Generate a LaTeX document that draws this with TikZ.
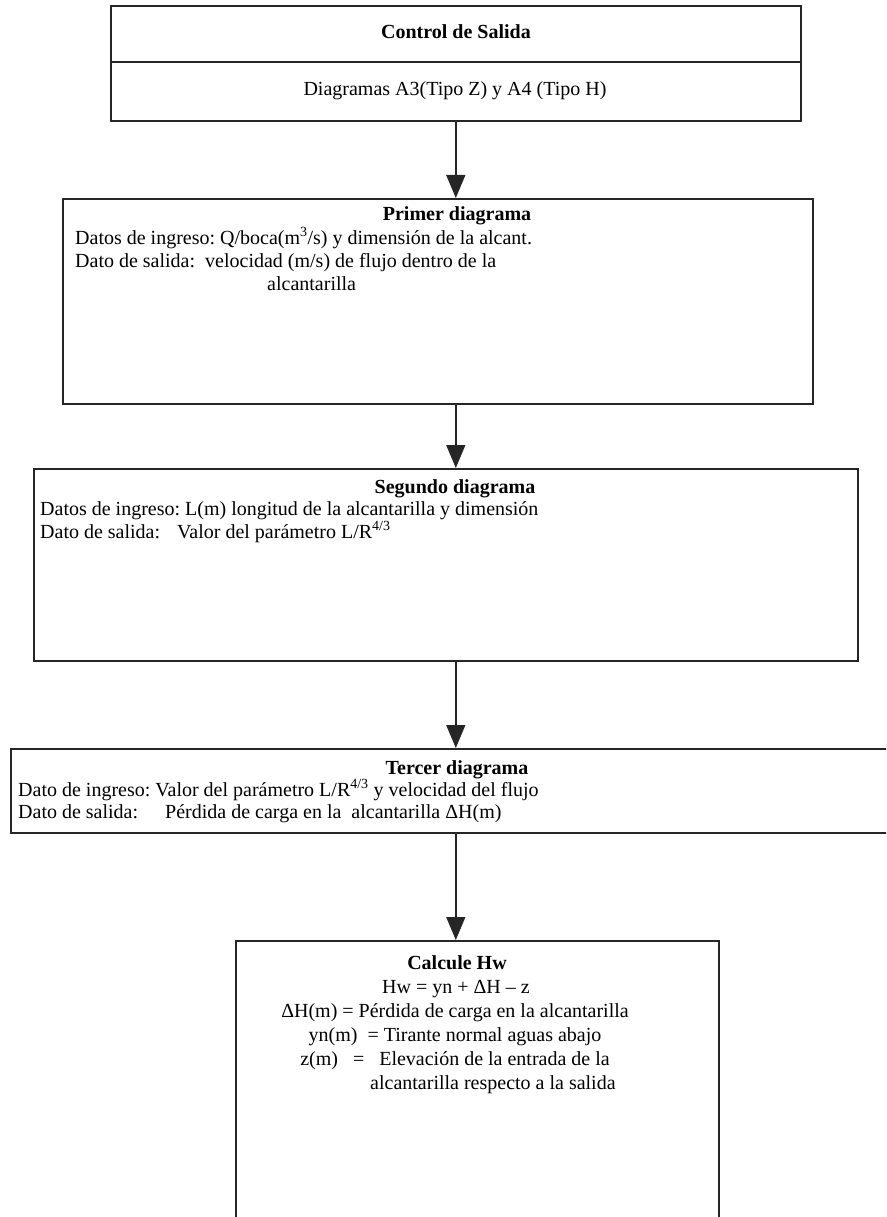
\documentclass[tikz,border=0pt]{standalone}
\usepackage{fontspec}
\setmainfont{Liberation Serif}
\usetikzlibrary{arrows.meta}
\frenchspacing
\begin{document}
\begin{tikzpicture}[x=1pt,y=-1pt,
  frame/.style={draw=black!85, line width=1.6pt, rectangle, inner sep=0pt, anchor=north west},
  flow/.style={draw=black!85, line width=1.4pt, -{Triangle[length=23pt,width=19pt]}},
  txt/.style={inner sep=0pt, font=\fontsize{20}{24}\selectfont},
  lft/.style={txt, anchor=base west},
  ctr/.style={txt, anchor=base},
  ttl/.style={ctr, font=\fontsize{20}{24}\selectfont\bfseries}]
\useasboundingbox (0,0) rectangle (886,1217);
\clip (0,0) rectangle (886,1217);

% boxes
\node[frame, minimum width=690pt, minimum height=115pt] (b1) at (110,5) {};
\node[frame, minimum width=750pt, minimum height=205pt] (b2) at (62,198) {};
\node[frame, minimum width=824pt, minimum height=192pt] (b3) at (33,468) {};
\node[frame, minimum width=900pt, minimum height=84pt]  (b4) at (10,748) {};
\node[frame, minimum width=483pt, minimum height=320pt] (b5) at (235,940) {};
\coordinate (split) at (0,62);
\draw[line width=1.6pt, draw=black!85] (b1.west |- split) -- (b1.east |- split);

% connectors
\draw[flow] (b1.south) -- (b1.south |- b2.north);
\draw[flow] (b2.south -| b1.south) -- (b3.north -| b1.south);
\draw[flow] (b3.south -| b1.south) -- (b4.north -| b1.south);
\draw[flow] (b4.south -| b1.south) -- (b5.north -| b1.south);

% box 1
\node[ttl] (t1) at (456,39) {Control de Salida};
\node[ctr] (t1a) at (455,96) {Diagramas A3(Tipo Z) y A4 (Tipo H)};

% box 2
\node[ttl] (t2) at (457,220) {Primer diagrama};
\node[lft] (t2a) at (75,244) {Datos de ingreso: Q/boca(m\textsuperscript{3}/s) y dimensión de la alcant.};
\node[lft] (t2b) at (75,267) {Dato de salida:\ \ velocidad (m/s) de flujo dentro de la};
\node[lft] (t2c) at (267,290) {alcantarilla};

% box 3
\node[ttl] (t3) at (455,493) {Segundo diagrama};
\node[lft] (t3a) at (40,515) {Datos de ingreso: L(m) longitud de la alcantarilla y dimensión};
\node[lft] (t3b) at (40,538) {\makebox[137pt][l]{Dato de salida:}Valor del parámetro L/R\textsuperscript{4/3}};

% box 4
\node[ttl] (t4) at (457,774) {Tercer diagrama};
\node[lft] (t4a) at (18,796) {Dato de ingreso: Valor del parámetro L/R\textsuperscript{4/3} y velocidad del flujo};
\node[lft] (t4b) at (18,818) {\makebox[147pt][l]{Dato de salida:}Pérdida de carga en la\ \ alcantarilla ΔH(m)};

% box 5
\node[ttl] (t5) at (457,969) {Calcule Hw};
\node[ctr] (t5a) at (456,993) {Hw = yn + ΔH -- z};
\node[ctr] (t5b) at (455,1017) {ΔH(m) = Pérdida de carga en la alcantarilla};
\node[ctr] (t5c) at (455,1041) {yn(m)\ \ = Tirante normal aguas abajo};
\node[ctr] (t5d) at (455,1065) {z(m)\ \ \ =\ \ \ Elevación de la entrada de la};
\node[lft] (t5e) at (370,1089) {alcantarilla respecto a la salida};
\end{tikzpicture}
\end{document}
